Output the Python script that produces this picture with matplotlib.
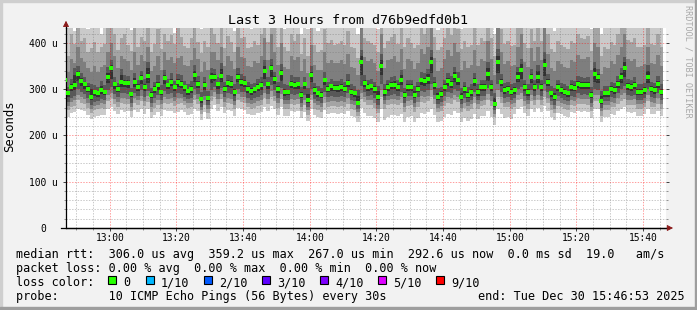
import pandas as pd
import matplotlib
matplotlib.use('Agg')
import matplotlib.pyplot as plt
import matplotlib.dates as mdates
from matplotlib.ticker import MultipleLocator, FuncFormatter
from matplotlib.patches import Rectangle

plt.rcParams['font.family'] = ['DejaVu Sans Mono']

# time range of the graph and first 60 s sample
graph_begin = '2025-12-30 12:46:53'
graph_end = '2025-12-30 15:46:53'
first_sample = '2025-12-30 12:46:00'

# median rtt (us), one value per minute
med = [319, 291, 305, 309, 332, 317, 310, 301, 283, 293, 291, 299, 294, 327, 346,
       310, 301, 316, 314, 314, 289, 316, 305, 324, 305, 329, 288, 301, 309, 294,
       323, 309, 316, 304, 316, 312, 304, 296, 301, 330, 312, 278, 309, 281, 327,
       327, 310, 329, 301, 314, 312, 294, 327, 316, 314, 300, 296, 300, 305, 309,
       340, 310, 345, 322, 300, 334, 294, 294, 312, 309, 310, 288, 310, 276, 330,
       298, 291, 287, 319, 301, 306, 303, 303, 305, 301, 314, 294, 291, 271, 359,
       314, 305, 306, 301, 283, 350, 294, 305, 309, 309, 305, 319, 287, 305, 305,
       287, 301, 319, 317, 321, 358, 309, 283, 289, 305, 317, 312, 329, 319, 283,
       301, 288, 294, 317, 294, 305, 305, 332, 305, 267, 358, 316, 298, 301, 294,
       298, 327, 341, 304, 294, 327, 305, 327, 305, 352, 316, 291, 283, 304, 298,
       294, 291, 305, 303, 312, 309, 309, 309, 287, 332, 327, 274, 291, 291, 301,
       298, 312, 327, 345, 307, 305, 309, 294, 294, 298, 327, 301, 298, 312, 294]

# the 10 sorted pings of each minute (us), p1 = fastest, p10 = slowest
p1 = [260, 240, 248, 250, 258, 255, 252, 244, 236, 240, 243, 245, 244, 258, 262,
      252, 247, 255, 250, 252, 240, 254, 250, 256, 247, 256, 238, 245, 250, 243,
      254, 252, 252, 248, 250, 254, 250, 245, 247, 258, 252, 234, 250, 236, 256,
      266, 252, 262, 248, 254, 252, 242, 260, 256, 254, 246, 244, 245, 248, 250,
      262, 252, 264, 258, 245, 262, 242, 243, 252, 250, 252, 238, 250, 232, 258,
      244, 240, 238, 254, 247, 248, 248, 246, 248, 247, 252, 242, 240, 230, 260,
      248, 242, 242, 237, 228, 258, 234, 240, 244, 244, 241, 246, 230, 240, 242,
      230, 238, 248, 247, 250, 258, 244, 229, 232, 240, 246, 244, 252, 248, 228,
      237, 232, 235, 246, 235, 241, 242, 252, 240, 222, 258, 246, 238, 239, 236,
      246, 258, 262, 248, 242, 258, 250, 260, 250, 264, 252, 240, 234, 248, 246,
      243, 240, 250, 248, 252, 250, 252, 250, 238, 258, 256, 230, 240, 240, 246,
      245, 252, 258, 262, 250, 249, 250, 243, 243, 246, 258, 247, 246, 252, 243]
p2 = [276, 254, 262, 264, 276, 271, 268, 259, 248, 254, 256, 259, 258, 275, 280,
      268, 262, 270, 268, 268, 253, 269, 265, 274, 263, 273, 251, 260, 266, 257,
      271, 268, 269, 263, 268, 269, 265, 259, 261, 276, 268, 246, 265, 248, 274,
      282, 268, 278, 262, 270, 268, 256, 277, 272, 270, 261, 258, 260, 264, 266,
      280, 268, 282, 274, 260, 278, 257, 257, 268, 266, 268, 252, 266, 245, 276,
      258, 255, 251, 270, 262, 263, 263, 262, 263, 262, 268, 257, 255, 241, 278,
      272, 265, 266, 260, 249, 284, 257, 265, 267, 268, 265, 271, 251, 264, 265,
      251, 261, 273, 271, 274, 284, 267, 250, 253, 264, 271, 268, 276, 272, 250,
      260, 253, 257, 270, 257, 264, 265, 277, 264, 239, 284, 270, 261, 261, 258,
      261, 276, 279, 264, 257, 275, 265, 276, 265, 282, 269, 255, 249, 264, 261,
      258, 255, 265, 263, 268, 267, 267, 266, 252, 275, 274, 243, 255, 255, 262,
      261, 268, 275, 279, 266, 265, 266, 258, 258, 261, 275, 262, 261, 268, 258]
p3 = [288, 263, 272, 276, 288, 282, 279, 270, 257, 264, 266, 270, 267, 287, 292,
      279, 272, 281, 280, 279, 262, 281, 276, 286, 274, 285, 261, 271, 277, 267,
      283, 279, 280, 274, 280, 280, 275, 269, 271, 288, 279, 254, 276, 257, 286,
      294, 279, 290, 272, 281, 279, 266, 289, 283, 282, 271, 268, 270, 274, 277,
      292, 279, 295, 286, 271, 290, 267, 267, 279, 277, 279, 262, 277, 254, 288,
      269, 265, 261, 282, 272, 274, 274, 273, 274, 272, 280, 267, 265, 250, 292,
      283, 276, 277, 271, 258, 298, 267, 276, 278, 279, 276, 283, 261, 275, 276,
      261, 272, 285, 283, 286, 298, 278, 259, 263, 275, 283, 280, 288, 284, 259,
      271, 263, 267, 282, 267, 275, 276, 290, 275, 247, 298, 282, 271, 272, 268,
      271, 288, 292, 275, 267, 287, 276, 288, 276, 296, 281, 265, 258, 275, 271,
      268, 265, 276, 274, 280, 278, 279, 278, 262, 288, 287, 252, 265, 265, 272,
      271, 280, 288, 292, 277, 276, 278, 268, 268, 271, 288, 272, 271, 280, 268]
p4 = [298, 272, 281, 286, 300, 293, 289, 280, 265, 273, 275, 279, 276, 298, 305,
      289, 282, 292, 291, 290, 271, 292, 286, 298, 284, 297, 270, 281, 287, 277,
      295, 289, 292, 284, 291, 290, 284, 278, 280, 300, 290, 262, 286, 265, 298,
      305, 289, 302, 282, 292, 290, 275, 300, 294, 293, 281, 277, 280, 284, 288,
      306, 290, 308, 298, 281, 302, 276, 276, 290, 288, 290, 271, 288, 262, 300,
      279, 274, 270, 294, 282, 285, 284, 283, 285, 282, 291, 276, 274, 258, 306,
      293, 286, 287, 281, 266, 312, 276, 286, 288, 289, 286, 294, 270, 285, 286,
      270, 282, 296, 294, 298, 312, 288, 267, 272, 285, 294, 291, 300, 295, 267,
      281, 272, 276, 293, 276, 285, 286, 302, 285, 254, 312, 293, 280, 282, 277,
      280, 300, 305, 285, 276, 299, 286, 300, 286, 310, 293, 274, 266, 285, 280,
      277, 274, 286, 284, 291, 288, 289, 288, 270, 300, 299, 260, 274, 274, 282,
      280, 291, 300, 306, 287, 286, 288, 277, 277, 280, 300, 282, 280, 291, 277]
p5 = [310, 284, 296, 298, 318, 306, 300, 293, 276, 285, 284, 290, 287, 314, 322,
      301, 293, 305, 304, 303, 282, 305, 297, 312, 296, 314, 280, 292, 299, 287,
      310, 300, 306, 296, 305, 302, 296, 288, 292, 316, 303, 271, 299, 274, 314,
      318, 300, 316, 293, 305, 302, 286, 315, 306, 305, 292, 288, 291, 296, 299,
      322, 301, 326, 311, 292, 318, 286, 287, 302, 300, 301, 281, 300, 270, 316,
      290, 284, 280, 308, 293, 297, 295, 294, 296, 293, 304, 287, 284, 265, 330,
      305, 297, 298, 292, 276, 330, 286, 297, 300, 300, 297, 308, 280, 296, 297,
      280, 293, 309, 307, 311, 334, 300, 276, 282, 296, 307, 303, 316, 308, 276,
      292, 281, 286, 306, 286, 296, 297, 318, 296, 261, 334, 306, 290, 293, 287,
      290, 315, 322, 296, 286, 314, 297, 314, 297, 328, 306, 284, 276, 296, 290,
      287, 284, 297, 295, 303, 300, 300, 300, 280, 316, 314, 268, 284, 284, 293,
      290, 303, 314, 326, 298, 297, 300, 287, 287, 290, 314, 293, 290, 303, 287]
p6 = [325, 297, 312, 330, 340, 323, 316, 306, 300, 299, 296, 306, 299, 335, 352,
      316, 306, 331, 320, 319, 294, 323, 310, 330, 311, 345, 293, 306, 316, 299,
      330, 314, 322, 309, 322, 318, 309, 301, 307, 340, 318, 284, 315, 286, 334,
      333, 316, 344, 306, 320, 318, 300, 333, 322, 319, 306, 302, 305, 311, 315,
      350, 316, 352, 328, 306, 342, 300, 299, 318, 315, 316, 294, 316, 290, 338,
      304, 297, 293, 325, 306, 312, 309, 308, 311, 306, 320, 300, 297, 286, 372,
      320, 311, 312, 307, 296, 362, 300, 311, 315, 318, 311, 330, 293, 311, 311,
      296, 307, 325, 323, 332, 370, 315, 292, 295, 311, 323, 318, 336, 325, 292,
      307, 294, 300, 323, 300, 311, 311, 345, 311, 280, 372, 322, 304, 307, 300,
      304, 336, 354, 310, 300, 333, 311, 340, 311, 366, 322, 297, 292, 310, 304,
      300, 297, 311, 309, 318, 315, 315, 315, 294, 346, 333, 286, 297, 297, 307,
      304, 318, 335, 358, 313, 311, 315, 300, 300, 304, 340, 307, 304, 318, 300]
p7 = [334, 305, 322, 346, 350, 334, 326, 314, 312, 308, 305, 318, 308, 348, 362,
      326, 314, 344, 330, 328, 302, 334, 320, 340, 322, 358, 302, 316, 330, 308,
      342, 322, 334, 318, 332, 330, 318, 310, 318, 352, 328, 294, 326, 296, 346,
      344, 326, 356, 316, 330, 328, 310, 346, 332, 328, 316, 312, 314, 322, 326,
      362, 326, 364, 338, 316, 354, 310, 308, 330, 326, 326, 304, 326, 302, 350,
      314, 306, 302, 336, 316, 322, 318, 318, 322, 316, 332, 310, 306, 298, 384,
      330, 320, 322, 316, 306, 376, 310, 320, 326, 328, 320, 342, 302, 320, 320,
      306, 316, 336, 334, 344, 384, 326, 302, 304, 320, 334, 328, 348, 336, 302,
      316, 304, 310, 334, 310, 320, 320, 358, 320, 292, 386, 332, 314, 316, 310,
      314, 348, 366, 320, 310, 344, 320, 352, 320, 380, 332, 306, 302, 320, 314,
      310, 306, 320, 318, 328, 326, 324, 326, 304, 358, 344, 296, 306, 306, 316,
      314, 328, 346, 370, 322, 320, 326, 310, 310, 314, 352, 316, 314, 328, 310]
p8 = [362, 336, 364, 356, 390, 368, 358, 345, 336, 350, 338, 348, 352, 380, 400,
      372, 346, 372, 366, 360, 342, 380, 352, 374, 360, 392, 340, 350, 372, 342,
      380, 362, 370, 356, 368, 372, 352, 350, 362, 388, 364, 336, 358, 342, 380,
      380, 362, 392, 350, 372, 360, 344, 390, 370, 368, 350, 348, 360, 356, 372,
      410, 362, 420, 380, 352, 400, 348, 344, 372, 362, 370, 340, 364, 334, 396,
      352, 342, 342, 380, 356, 362, 356, 356, 362, 354, 376, 348, 346, 330, 440,
      370, 360, 364, 356, 340, 420, 346, 362, 366, 372, 358, 386, 344, 364, 360,
      344, 356, 386, 376, 390, 440, 368, 340, 346, 364, 384, 372, 400, 380, 342,
      360, 346, 352, 384, 350, 364, 360, 404, 364, 330, 440, 380, 354, 360, 350,
      352, 390, 420, 358, 348, 388, 360, 392, 362, 440, 376, 346, 340, 360, 354,
      348, 346, 362, 358, 374, 366, 364, 370, 342, 400, 392, 332, 348, 346, 360,
      354, 374, 392, 420, 364, 360, 366, 348, 350, 354, 392, 356, 354, 374, 350]
p9 = [400, 372, 420, 398, 440, 404, 410, 380, 388, 402, 380, 392, 398, 436, 450,
      420, 384, 410, 420, 396, 382, 440, 392, 412, 404, 446, 380, 398, 430, 386,
      420, 404, 416, 398, 442, 412, 394, 388, 410, 440, 402, 378, 404, 392, 436,
      420, 400, 446, 388, 414, 402, 380, 440, 410, 412, 388, 392, 404, 396, 420,
      450, 402, 460, 440, 390, 446, 390, 382, 420, 404, 420, 376, 410, 372, 440,
      396, 380, 384, 430, 400, 406, 396, 398, 404, 396, 426, 390, 388, 368, 470,
      410, 404, 400, 396, 380, 460, 388, 404, 412, 420, 398, 440, 390, 410, 400,
      388, 396, 440, 420, 436, 470, 412, 384, 392, 410, 440, 416, 446, 430, 386,
      404, 392, 396, 440, 396, 410, 404, 450, 410, 372, 480, 430, 398, 404, 394,
      396, 436, 460, 400, 388, 430, 404, 440, 404, 470, 420, 386, 380, 404, 396,
      390, 386, 404, 400, 420, 410, 408, 414, 382, 446, 436, 372, 390, 386, 402,
      396, 420, 440, 460, 406, 402, 410, 390, 392, 396, 440, 398, 396, 420, 392]
p10 = [460, 440, 480, 426, 500, 470, 460, 430, 450, 470, 440, 420, 460, 500, 520,
       470, 440, 470, 500, 450, 428, 500, 460, 470, 480, 520, 440, 460, 490, 440,
       480, 460, 480, 422, 500, 470, 450, 440, 470, 500, 460, 430, 470, 450, 500,
       480, 470, 500, 440, 470, 460, 425, 500, 470, 480, 440, 430, 460, 450, 480,
       520, 460, 520, 500, 440, 500, 430, 440, 480, 460, 480, 420, 470, 430, 500,
       450, 426, 440, 490, 460, 470, 440, 450, 460, 440, 490, 436, 440, 420, 520,
       470, 460, 450, 440, 430, 520, 440, 470, 480, 490, 450, 500, 440, 480, 460,
       436, 440, 500, 480, 500, 540, 470, 428, 440, 470, 500, 480, 520, 490, 430,
       460, 440, 440, 500, 446, 470, 460, 520, 470, 420, 540, 490, 450, 460, 440,
       460, 500, 520, 470, 440, 490, 470, 500, 460, 540, 480, 440, 426, 470, 460,
       450, 436, 470, 460, 480, 470, 470, 480, 430, 510, 500, 420, 450, 440, 470,
       460, 480, 500, 520, 470, 460, 470, 440, 450, 460, 500, 460, 450, 480, 450]

loss_labels = ['0', '1/10', '2/10', '3/10', '4/10', '5/10', '9/10']
loss_colors = ['#26ff00', '#00b8ff', '#0059ff', '#5e00ff', '#7e00ff', '#dd00ff', '#ff0000']

W, H = 697, 310
fig = plt.figure(figsize=(W / 100, H / 100), dpi=100, facecolor='#f2f2f2')
ax = fig.add_axes([66 / W, 1 - 228 / H, 600 / W, 200 / H])
ax.set_facecolor('white')

edges = mdates.date2num(pd.date_range(first_sample, periods=len(med) + 1, freq='60s'))
centers = (edges[:-1] + edges[1:]) / 2

# smoke: outer pair lightest, inner pair darkest
smoke = [(p1, p10, '#cacaca'), (p2, p9, '#a4a4a4'), (p3, p8, '#7e7e7e'),
         (p4, p7, '#585858'), (p5, p6, '#323232')]
for lo, hi, col in smoke:
    ax.stairs(hi, edges, baseline=lo, fill=True, color=col, lw=0)

ax.plot(centers, med, 's', color=loss_colors[0], ms=2.4, mew=0, zorder=4)

t0 = pd.Timestamp(graph_begin).to_pydatetime()
t1 = pd.Timestamp(graph_end).to_pydatetime()
major_x = mdates.MinuteLocator(byminute=[0, 20, 40])
minor_x = mdates.MinuteLocator(byminute=[5, 10, 15, 25, 30, 35, 45, 50, 55])
ax.xaxis.set_major_locator(major_x)
ax.xaxis.set_minor_locator(minor_x)
ax.xaxis.set_major_formatter(mdates.DateFormatter('%H:%M'))
ax.yaxis.set_major_locator(MultipleLocator(100))
ax.yaxis.set_minor_locator(MultipleLocator(20))
ax.yaxis.set_major_formatter(FuncFormatter(lambda v, p: '0' if v == 0 else '%d u' % v))

# dotted grid: gray every 5 min / 20 u, pink every 20 min / 100 u
grid_gray = (0.45, 0.45, 0.45, 0.38)
grid_red = (1, 0, 0, 0.38)
dots = (0, (1.4, 1.4))
gkw = dict(linestyles=[dots], linewidths=0.72, zorder=2, snap=True)
ax.vlines(minor_x.tick_values(t0, t1), 0, 1, transform=ax.get_xaxis_transform(), colors=[grid_gray], **gkw)
ax.vlines(major_x.tick_values(t0, t1), 0, 1, transform=ax.get_xaxis_transform(), colors=[grid_red], **gkw)
ax.hlines([v for v in range(20, 432, 20) if v % 100], 0, 1, transform=ax.get_yaxis_transform(),
          colors=[grid_gray], **gkw)
ax.hlines([100, 200, 300, 400], 0, 1, transform=ax.get_yaxis_transform(), colors=[grid_red], **gkw)
ax.set_xlim(t0, t1)
ax.set_ylim(0, 432)

for s in ['top', 'right']:
    ax.spines[s].set_visible(False)
for s in ['left', 'bottom']:
    ax.spines[s].set_linewidth(0.9)
    ax.spines[s].set_color('black')

ax.tick_params(axis='both', which='major', length=2.2, width=0.7, labelsize=6.9, color='#404040')
ax.tick_params(axis='both', which='minor', length=1.4, width=0.7, color='#909090')
ax.tick_params(axis='x', which='major', pad=1.6)
ax.tick_params(axis='y', which='both', right=True)
ax.tick_params(axis='y', which='major', pad=14)
plt.setp(ax.get_yticklabels(), ha='center')

# axis arrows
ax.plot([0, 0], [1, 1.02], transform=ax.transAxes, color='black', lw=0.9, clip_on=False)
ax.plot([-0.008, 1.005], [0, 0], transform=ax.transAxes, color='black', lw=0.9, clip_on=False)
ax.annotate('', xy=(0, 1.036), xytext=(0, 1.01), xycoords='axes fraction',
            arrowprops=dict(arrowstyle='-|>,head_length=0.35,head_width=0.18', color='#8b1a1a',
                            lw=0.6, shrinkA=0, shrinkB=0))
ax.annotate('', xy=(1.0117, 0), xytext=(1.002, 0), xycoords='axes fraction',
            arrowprops=dict(arrowstyle='-|>,head_length=0.35,head_width=0.18', color='#8b1a1a',
                            lw=0.6, shrinkA=0, shrinkB=0))

fig.text(348 / W, 1 - 20 / H, 'Last 3 Hours from d76b9edfd0b1', ha='center', va='center', fontsize=9.6)
fig.text(10 / W, 1 - 126 / H, 'Seconds', rotation=90, ha='center', va='center', fontsize=8.8)
fig.text(688 / W, 1 - 5 / H, 'RRDTOOL / TOBI OETIKER', rotation=270, ha='center', va='top',
         fontsize=6.1, color='#a8a8a8')

lx = 16 / W
fig.text(lx, 1 - 258 / H, 'median rtt:  306.0 us avg  359.2 us max  267.0 us min  292.6 us now  0.0 ms sd  19.0   am/s',
         fontsize=8.5, va='baseline')
fig.text(lx, 1 - 272 / H, 'packet loss: 0.00 % avg  0.00 % max  0.00 % min  0.00 % now',
         fontsize=8.5, va='baseline')
fig.text(lx, 1 - 286 / H, 'loss color:', fontsize=8.5, va='baseline')
fig.text(lx, 1 - 300 / H, 'probe:       10 ICMP Echo Pings (56 Bytes) every 30s',
         fontsize=8.5, va='baseline')
fig.text(478 / W, 1 - 300 / H, 'end: Tue Dec 30 15:46:53 2025', fontsize=8.5, va='baseline')

sq_x = [108, 146, 204, 262, 320, 378, 436]
for x, lab, col in zip(sq_x, loss_labels, loss_colors):
    fig.patches.append(Rectangle((x / W, 26 / H), 8 / W, 8 / H, transform=fig.transFigure,
                                 fc=col, ec='black', lw=0.8))
    fig.text((x + 15) / W, 1 - 286 / H, lab, fontsize=8.5, va='baseline')

# 3d frame
fig.patches.append(Rectangle((0, 1 - 2 / H), 1, 2 / H, transform=fig.transFigure, color='#cfcfcf'))
fig.patches.append(Rectangle((0, 0), 2 / W, 1, transform=fig.transFigure, color='#cfcfcf'))
fig.patches.append(Rectangle((0, 0), 1, 3 / H, transform=fig.transFigure, color='#9e9e9e'))
fig.patches.append(Rectangle((1 - 2 / W, 0), 2 / W, 1, transform=fig.transFigure, color='#9e9e9e'))

fig.savefig('out.png', dpi=100, facecolor=fig.get_facecolor())
